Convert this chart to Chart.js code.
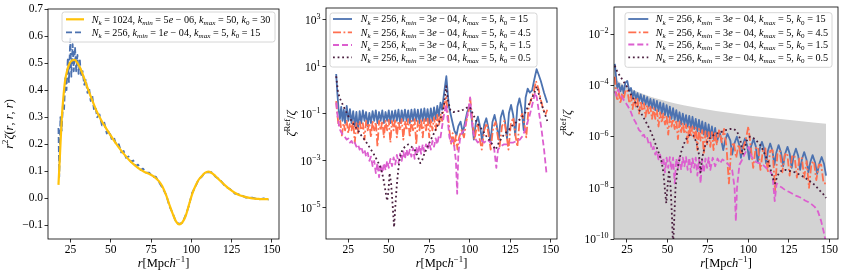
<!DOCTYPE html>
<html><head><meta charset="utf-8">
<script src="https://cdn.jsdelivr.net/npm/chart.js@4/dist/chart.umd.min.js"></script>
<style>
html,body{margin:0;padding:0;background:#fff;}
#wrap{position:relative;width:843px;height:274px;overflow:hidden;background:#fff;}
canvas{position:absolute;top:0;}
</style></head><body>
<div id="wrap">
<canvas id="c1" width="290" height="274" style="left:0px"></canvas>
<canvas id="c2" width="290" height="274" style="left:280px"></canvas>
<canvas id="c3" width="288" height="274" style="left:555px"></canvas>
</div>
<script>
// ------------------------------------------------------------------ data
const xTicks = [25, 50, 75, 100, 125, 150];
const p1YTicks = [-0.1, 0, 0.1, 0.2, 0.3, 0.4, 0.5, 0.6, 0.7];
const p2YTicks = [1e-5, 1e-3, 1e-1, 1e1, 1e3];
const p3YTicks = [1e-10, 1e-8, 1e-6, 1e-4, 1e-2];

const p1Labels = [
  'N_k = 1024, k_{min} = 5e − 06, k_{max} = 50, k_0 = 30',
  'N_k = 256, k_{min} = 1e − 04, k_{max} = 5, k_0 = 15'
];
const kLabels = [
  'N_k = 256, k_{min} = 3e − 04, k_{max} = 5, k_0 = 15',
  'N_k = 256, k_{min} = 3e − 04, k_{max} = 5, k_0 = 4.5',
  'N_k = 256, k_{min} = 3e − 04, k_{max} = 5, k_0 = 1.5',
  'N_k = 256, k_{min} = 3e − 04, k_{max} = 5, k_0 = 0.5'
];
const xTitle = 'r[|Mpc|h^{−1}]';
const p1YTitle = 'r^2ζ(r, r, r)';
const refYTitle = 'ζ^{|Ref|}/ζ';

// Panel 1: r^2 zeta
const p1_ref = [[17.5,0.05],[18.5,0.17],[19.5,0.29],[20.5,0.37],[21.5,0.43],[23,0.475],[24.5,0.5],[26,0.51],[27.5,0.512],[29,0.503],[31,0.482],[33,0.452],[35,0.418],[38,0.37],[41,0.325],[44,0.29],[47,0.26],[50,0.232],[53,0.205],[56,0.18],[59,0.158],[62,0.138],[65,0.122],[68,0.108],[71,0.098],[74,0.09],[77,0.08],[80,0.063],[82,0.045],[84.5,0.01],[86.5,-0.025],[88.5,-0.057],[90.5,-0.085],[92.5,-0.096],[94.5,-0.088],[96.5,-0.065],[98.5,-0.025],[100.5,0.015],[102.5,0.045],[104.5,0.068],[106.5,0.082],[108.5,0.094],[110.5,0.099],[112.5,0.095],[115,0.083],[118,0.065],[121,0.048],[124,0.033],[127,0.021],[130,0.012],[134,0.005],[138,0.0],[142,-0.002],[145,-0.003],[148,-0.003]];
const p1_k15 = [[17.5,0.26],[18.0,0.08],[18.7,0.3],[19.5,0.25],[20.3,0.35],[21,0.33],[21.8,0.45],[22.5,0.4],[23.3,0.52],[24,0.43],[24.8,0.59],[25.5,0.45],[26.3,0.57],[27,0.47],[27.8,0.56],[28.5,0.47],[29.3,0.53],[30,0.46],[30.8,0.51],[31.5,0.45],[32.5,0.47],[33.5,0.42],[34.5,0.44],[35.5,0.39],[36.5,0.41],[37.5,0.36],[38.5,0.38],[39.5,0.33],[40.5,0.34],[41.5,0.3],[43,0.31],[44.5,0.27],[46,0.28],[47.5,0.24],[49,0.25],[50.5,0.22],[52,0.225],[53.5,0.195],[55,0.2],[56.5,0.17],[58,0.175],[59.5,0.15],[61,0.155],[62.5,0.135],[64,0.14],[65.5,0.12],[67,0.125],[68.5,0.105],[70,0.11],[72,0.095],[74,0.095],[76,0.08],[78,0.08],[80,0.06],[82,0.04],[84.5,0.012],[86.5,-0.03],[88.5,-0.055],[90.5,-0.088],[92.5,-0.094],[94.5,-0.09],[96.5,-0.062],[98.5,-0.028],[100.5,0.02],[102.5,0.042],[104.5,0.07],[106.5,0.08],[108.5,0.096],[110.5,0.096],[112.5,0.097],[115,0.08],[118,0.068],[121,0.045],[124,0.035],[127,0.018],[130,0.015],[134,0.003],[138,0.003],[142,-0.004],[145,0.0],[148,-0.005]];

// Panel 2: zeta_Ref / zeta
const p2_k15 = [[17.5,5],[18.2,0.8],[19,0.15],[19.8,0.06],[20.6,0.2],[21.4,0.05],[22.2,0.15],[23,0.04],[24,0.22],[25,0.05],[26,0.16],[27,0.04],[28,0.13],[29,0.03],[30,0.12],[31,0.02],[32,0.13],[33,0.04],[34,0.14],[35,0.05],[36,0.12],[37,0.03],[38,0.11],[39,0.04],[40,0.13],[41,0.05],[42,0.14],[43,0.04],[44,0.12],[45,0.05],[46,0.14],[47,0.04],[48,0.12],[49,0.05],[50,0.14],[51,0.04],[52,0.13],[53,0.05],[54,0.14],[55,0.05],[56,0.15],[57,0.04],[58,0.14],[59,0.05],[60,0.15],[61,0.05],[62,0.14],[63,0.04],[64,0.15],[65,0.05],[66,0.16],[67,0.05],[68,0.15],[69,0.04],[70,0.16],[71,0.05],[72,0.17],[73,0.05],[74,0.16],[75,0.04],[76,0.17],[77,0.05],[78,0.19],[79,0.06],[80,0.22],[81,0.08],[82,0.3],[83,0.15],[84,0.6],[85,2],[85.6,4],[86.3,1],[87.2,0.2],[88.8,0.065],[90.5,0.02],[91.9,0.0126],[93,0.03],[94.4,0.047],[95.8,0.015],[97,0.04],[98.5,0.12],[100.1,0.24],[101.3,0.06],[102.6,0.008],[103.8,0.04],[105.1,0.076],[106.4,0.03],[107.7,0.007],[109,0.035],[110.3,0.065],[111.6,0.025],[112.9,0.006],[114.1,0.045],[115.4,0.09],[116.7,0.035],[118,0.008],[119.2,0.07],[120.5,0.14],[121.8,0.05],[123.1,0.009],[124.3,0.11],[125.6,0.24],[126.9,0.09],[128.2,0.012],[129.5,0.2],[130.8,0.46],[132.1,0.17],[133.4,0.02],[134.6,0.5],[135.9,1.2],[137.2,0.8],[138.6,1.0],[140,3],[141.4,8],[142.5,5],[144,2.5],[146,0.8],[148,0.3]];
const p2_k45 = [[17.5,0.35],[18.2,0.1],[19,0.03],[20,0.05],[21,0.012],[22,0.04],[23,0.02],[24,0.05],[25,0.015],[26,0.04],[27,0.02],[28,0.05],[29,0.006],[30,0.04],[31,0.015],[32,0.05],[33,0.02],[34,0.04],[35,0.008],[36,0.05],[37,0.02],[38,0.04],[39,0.01],[40,0.05],[41,0.02],[42,0.045],[43,0.004],[44,0.05],[45,0.02],[46,0.05],[47,0.01],[48,0.05],[49,0.02],[50,0.055],[51,0.006],[52,0.05],[53,0.02],[54,0.06],[55,0.01],[56,0.05],[57,0.02],[58,0.06],[59,0.008],[60,0.05],[61,0.02],[62,0.06],[63,0.01],[64,0.05],[65,0.02],[66,0.06],[67,0.005],[68,0.05],[69,0.02],[70,0.06],[71,0.01],[72,0.06],[73,0.02],[74,0.07],[75,0.01],[76,0.06],[77,0.02],[78,0.07],[79,0.02],[80,0.09],[81,0.03],[82,0.1],[83,0.05],[84,0.2],[85.5,0.5],[86.5,0.1],[87.5,0.02],[88.5,0.005],[89.5,0.015],[90.5,0.004],[91.5,0.012],[92.5,0.003],[93.5,0.01],[95,0.02],[96.5,0.01],[98,0.05],[99.5,0.15],[100.3,0.5],[101,0.15],[102,0.03],[103,0.008],[104,0.02],[105,0.04],[106,0.01],[107.5,0.003],[109,0.02],[110.5,0.04],[112,0.01],[113,0.003],[114.5,0.025],[116,0.045],[117.5,0.01],[118.5,0.004],[120,0.03],[121.5,0.05],[123,0.01],[124,0.003],[125.5,0.04],[127,0.07],[128.5,0.01],[129.5,0.004],[131,0.06],[132.5,0.1],[134,0.03],[135,0.01],[136.5,0.2],[138,0.4],[139.5,0.8],[141,2.5],[142.5,1.2],[144,0.4],[145.5,0.15],[147,0.1],[148,0.15]];
const p2_k15b = [[17.5,0.3],[18.2,0.1],[19,0.04],[20,0.02],[21,0.015],[22,0.012],[23,0.01],[24,0.008],[25,0.009],[26,0.006],[27,0.007],[28,0.005],[29,0.006],[30,0.004],[31,0.005],[32,0.003],[33,0.004],[34,0.0022],[35,0.003],[36,0.0015],[37,0.0022],[38,0.001],[39,0.0015],[40,0.0006],[41,0.001],[42,0.0003],[43,0.0008],[44,0.0002],[45,0.0007],[46,0.0003],[47,0.0008],[48,0.0004],[49,0.001],[50,0.0005],[51,0.0012],[52,0.0006],[53,0.0014],[54,0.0007],[55,0.0018],[56,0.0008],[57,0.002],[58,0.001],[59,0.0025],[60,0.0012],[61,0.003],[62,0.0015],[63,0.003],[64,0.0015],[65,0.0035],[66,0.0012],[67,0.004],[68,0.002],[69,0.0045],[70,0.002],[71,0.005],[72,0.0025],[73,0.005],[74,0.003],[75,0.006],[76,0.003],[77,0.007],[78,0.004],[79,0.009],[80,0.005],[81,0.012],[82,0.01],[83,0.03],[84,0.08],[85.5,0.25],[86.5,0.05],[87.5,0.01],[88.5,0.006],[89.5,0.008],[90.5,0.004],[91.5,0.001],[92.3,0.00004],[93,0.002],[94,0.008],[95,0.015],[96.5,0.02],[98,0.05],[99.5,0.2],[100.3,0.5],[101,0.1],[102,0.02],[103,0.01],[105,0.006],[107,0.008],[109,0.006],[111,0.008],[113,0.006],[115,0.004],[116.5,0.0005],[117.5,0.003],[119,0.004],[121,0.005],[123,0.005],[125,0.006],[127,0.006],[129,0.007],[131,0.008],[133,0.012],[135,0.03],[137,0.08],[139,0.3],[140.5,0.8],[141.5,0.5],[143,0.1],[144.5,0.02],[146,0.003],[147.5,0.0003]];
const p2_k05 = [[17.5,4],[18.5,1],[19.5,0.5],[21,0.3],[23,0.15],[25,0.08],[27,0.05],[29,0.03],[31,0.02],[33,0.012],[35,0.008],[37,0.005],[39,0.003],[41,0.0018],[43,0.001],[45,0.0005],[46.5,0.0002],[48,0.00005],[49,0.00002],[49.8,0.00005],[50.5,0.0003],[51.5,0.0001],[52.5,0.00001],[53.3,0.0000015],[54,0.00001],[55,0.0001],[56,0.0005],[57,0.0015],[58.5,0.003],[60,0.004],[62,0.005],[64,0.004],[66,0.003],[68,0.0015],[69.5,0.0008],[70.5,0.001],[72,0.002],[74,0.004],[76,0.008],[78,0.015],[80,0.03],[82,0.06],[84,0.2],[85.5,1.5],[86.5,0.4],[88,0.15],[90,0.12],[92,0.13],[94,0.13],[96,0.15],[98,0.18],[100,0.2],[102,0.1],[104,0.05],[106,0.03],[108,0.02],[110,0.012],[112,0.008],[114,0.005],[116,0.003],[117,0.004],[118,0.006],[120,0.01],[122,0.015],[124,0.02],[126,0.03],[128,0.04],[130,0.05],[132,0.07],[134,0.1],[136,0.2],[138,0.4],[140,0.8],[141.5,1.5],[143,0.6],[145,0.2],[146.5,0.1],[148,0.05]];

// Panel 3: zeta_Ref / zeta (other normalisation) + shaded bound
const p3_bound = [[17.5,1.8e-4],[20,1.4e-4],[25,9e-5],[30,6.3e-5],[35,4.7e-5],[40,3.6e-5],[45,2.9e-5],[50,2.4e-5],[55,2e-5],[60,1.7e-5],[70,1.3e-5],[80,1.0e-5],[90,8.2e-6],[100,6.8e-6],[110,5.7e-6],[120,4.9e-6],[130,4.2e-6],[140,3.6e-6],[148,3.2e-6]];
const p3_k15 = [[17.5,7e-4],[18.2,2.5e-4],[19,8e-5],[20,1.2e-4],[21,6e-5],[22,1e-4],[23,5e-5],[24,1.3e-4],[25.2,1.5e-4],[26.5,6e-5],[27.5,8e-5],[28.5,3.5e-5],[29.5,6e-5],[30.5,3e-5],[31.5,5e-5],[32.5,2.5e-5],[33.5,4.5e-5],[34.5,2e-5],[35.5,4e-5],[36.5,1.8e-5],[37.5,3.5e-5],[38.5,1.5e-5],[39.5,3e-5],[40.5,1.3e-5],[41.5,2.8e-5],[42.5,1.1e-5],[43.5,2.5e-5],[44.5,1e-5],[45.5,2.2e-5],[46.5,8e-6],[47.5,2e-5],[48.5,7e-6],[49.5,1.7e-5],[50.5,6e-6],[51.5,1.5e-5],[52.5,5e-6],[53.5,1.3e-5],[54.5,4.5e-6],[55.5,1.1e-5],[56.5,4e-6],[57.5,9e-6],[58.5,3e-6],[59.5,8e-6],[60.5,3e-6],[61.5,7e-6],[62.5,2.5e-6],[63.5,6.5e-6],[64.5,2.2e-6],[65.5,6e-6],[66.5,2e-6],[67.5,5e-6],[68.5,1.6e-6],[69.5,4.5e-6],[70.5,1.5e-6],[71.5,4e-6],[72.5,1.2e-6],[73.5,3.5e-6],[74.5,1e-6],[75.5,3e-6],[76.5,9e-7],[77.5,2.5e-6],[78.5,8e-7],[79.5,2.2e-6],[80.5,6e-7],[82.3,1.5e-6],[84.5,3e-7],[85.6,7e-7],[87.1,1.3e-6],[88.9,7e-7],[90,2e-7],[91.2,5e-7],[92.9,1e-6],[94.3,5e-7],[95.4,1.5e-7],[96.5,4.5e-7],[97.9,8.5e-7],[99.3,4.5e-7],[100.5,1.3e-7],[101.7,4.2e-7],[103.2,8e-7],[104.6,4.2e-7],[105.8,1e-7],[107,3.3e-7],[108.4,6.3e-7],[109.8,3.3e-7],[111,9e-8],[112.1,2.8e-7],[113.5,5.4e-7],[114.9,2.8e-7],[116.1,8e-8],[117.3,2.4e-7],[118.7,4.7e-7],[120.2,2.4e-7],[121.5,7e-8],[122.7,2.1e-7],[124.2,4e-7],[125.6,2.1e-7],[126.8,6e-8],[128,1.8e-7],[129.4,3.4e-7],[130.8,1.8e-7],[132,5e-8],[133.1,1.3e-7],[134.5,2.5e-7],[135.9,1.3e-7],[137.1,4e-8],[138.3,1e-7],[139.7,1.9e-7],[141.2,1e-7],[142.5,3.5e-8],[143.8,8.5e-8],[145.3,1.6e-7],[146.8,8.5e-8],[148,3e-8]];
const p3_k45 = [[17.5,2.2e-4],[18.2,6e-5],[19,2.5e-5],[20,5e-5],[21,2e-5],[22,5e-5],[23,3e-5],[24,6e-5],[25.2,7e-5],[26.5,2e-5],[27.5,4e-5],[28.5,1.2e-5],[29.5,3.5e-5],[30.5,1.5e-5],[31.5,3e-5],[32.5,8e-6],[33.5,2.5e-5],[34.5,1e-5],[35.5,2e-5],[36.5,6e-6],[37.5,1.8e-5],[38.5,7e-6],[39.5,1.5e-5],[40.5,5e-6],[41.5,1.3e-5],[42.5,5e-6],[43.5,1.1e-5],[44.5,2.5e-6],[45.5,9e-6],[46.5,3.5e-6],[47.5,8e-6],[48.5,3e-6],[49.5,7e-6],[50.5,1.2e-6],[51.5,6e-6],[52.5,2.5e-6],[53.5,5e-6],[54.5,2e-6],[55.5,4.5e-6],[56.5,8e-7],[57.5,4e-6],[58.5,1.5e-6],[59.5,3.5e-6],[60.5,1.3e-6],[61.5,3e-6],[62.5,5e-7],[63.5,2.8e-6],[64.5,1e-6],[65.5,2.5e-6],[66.5,9e-7],[67.5,2.2e-6],[68.5,3e-7],[69.5,2e-6],[70.5,7e-7],[71.5,1.8e-6],[72.5,2e-7],[73.5,1.6e-6],[74.5,5e-7],[75.5,1.5e-6],[76.5,4e-7],[77.5,1.5e-6],[78.5,3e-7],[79.5,1.6e-6],[80.5,5e-7],[82,2e-6],[83.5,6e-7],[85,2e-6],[86.5,4e-7],[88,1.5e-8],[89.5,4e-7],[91,6e-7],[92.5,1.5e-7],[94,5e-7],[95.5,2e-7],[97,4e-7],[98.5,8e-7],[100,2.5e-6],[101.5,4e-7],[103,6e-8],[104.5,3.5e-7],[106,4e-7],[107.5,5e-8],[109,3e-7],[110.5,3.5e-7],[112,4e-8],[113.5,2.8e-7],[115,3e-7],[116.5,8e-9],[118,2.3e-7],[119.5,2.7e-7],[121,4e-8],[122.5,2e-7],[124,2.3e-7],[125.5,3e-8],[127,1.7e-7],[128.5,1.9e-7],[130,2.5e-8],[131.5,1.4e-7],[133,1.6e-7],[134.5,2.5e-8],[136,1.1e-7],[137.5,1e-8],[139,9e-8],[140.5,1.1e-7],[142,2e-8],[143.5,8e-8],[145,8e-8],[146.5,1.5e-8],[148,1.5e-8]];
const p3_k15b = [[17.5,6e-5],[18.5,4e-5],[19.5,7e-5],[20.5,5e-5],[21.5,4e-5],[22.5,3e-5],[23.5,2.5e-5],[24.5,2e-5],[25.5,1.6e-5],[26.5,1.2e-5],[27.5,9e-6],[28.5,6e-6],[29.5,4.5e-6],[30.5,3.5e-6],[31.5,2.5e-6],[32.5,1.8e-6],[33.5,1.6e-6],[34.5,1.1e-6],[35.5,1.2e-6],[36.5,8e-7],[37.5,9e-7],[38.5,5e-7],[39.5,6e-7],[40.5,3e-7],[41.5,4e-7],[42.5,2e-7],[43.5,2.8e-7],[44.5,1.3e-7],[45.5,2e-7],[46.5,9e-8],[47.5,1.5e-7],[48.5,4e-8],[49.5,1.5e-7],[50.5,6e-8],[51.5,1.6e-7],[52.5,5e-8],[53.5,1.5e-7],[54.5,1.5e-8],[55.5,1.4e-7],[56.5,6e-8],[57.5,1.6e-7],[58.5,5e-8],[59.5,1.5e-7],[60.5,7e-8],[61.5,1.6e-7],[62.5,5e-8],[63.5,1.5e-7],[64.5,4e-8],[65.5,1.4e-7],[66.5,6e-8],[67.5,1.5e-7],[68.5,3e-8],[69.5,1.3e-7],[70.5,1.5e-8],[71.5,1.3e-7],[72.5,4e-8],[73.5,1.4e-7],[74.5,6e-8],[75.5,1.5e-7],[76.5,5e-8],[78,1.5e-7],[79.5,7e-8],[81,1.4e-7],[82.5,9e-8],[84,1.3e-7],[85.5,1.1e-7],[87,9e-8],[88.5,7e-8],[90,5e-8],[91.5,1e-8],[92.3,5e-10],[93,1e-8],[94.5,8e-8],[96,1.2e-7],[97.5,2e-7],[99,3e-7],[100.3,4e-7],[101.5,2e-7],[103,1.3e-7],[105,1e-7],[107,9e-8],[109,8e-8],[111,6e-8],[113,5e-8],[115,3e-8],[116.3,3e-9],[117.5,1.5e-8],[119,1.2e-8],[121,1e-8],[123,8e-9],[125,7e-9],[127,6e-9],[129,5e-9],[131,4.5e-9],[133,4e-9],[135,3.2e-9],[137,2.8e-9],[139,2.3e-9],[141,1.8e-9],[143,1.2e-9],[145,5e-10],[146.5,2e-10],[147.5,1e-10],[148,6e-11]];
const p3_k05 = [[17.5,6e-4],[19,3.5e-4],[21,2.2e-4],[23,1.4e-4],[25,9e-5],[27,5e-5],[29,3e-5],[31,1.7e-5],[33,1e-5],[35,6e-6],[37,3.5e-6],[39,2e-6],[41,1e-6],[43,4.5e-7],[45,2e-7],[46.5,1e-7],[47.5,4e-8],[48.5,8e-9],[49.3,2.5e-9],[50,1e-8],[51,5e-8],[52,1e-8],[52.8,8e-10],[53.5,5e-11],[54.3,8e-10],[55,1e-8],[56,4e-8],[57,1e-7],[58.5,2.5e-7],[60,5e-7],[62,9e-7],[64,1.2e-6],[66,1.1e-6],[68,6e-7],[69.5,2e-7],[70.5,4e-8],[71.5,1.5e-7],[73,4e-7],[75,7e-7],[77,1e-6],[80,1.3e-6],[83,1.5e-6],[86,1.8e-6],[89,2e-6],[91,2e-6],[93,1.6e-6],[95,8e-7],[96.5,2e-7],[97.5,3e-7],[99,7e-7],[101,1e-6],[103,9e-7],[105,7e-7],[107,5e-7],[109,3e-7],[111,1.6e-7],[113,8e-8],[115,2.5e-8],[116.5,1.5e-8],[118,3e-8],[120,4.5e-8],[123,5e-8],[126,4.5e-8],[129,4e-8],[132,3.2e-8],[135,2.5e-8],[138,1.8e-8],[141,1.3e-8],[144,8e-9],[146,6e-9],[148,4e-9]];

// ------------------------------------------------------------------ styles
const FAMILY = '"Liberation Serif","DejaVu Serif",serif';
const TICK_SIZE = 11.5;
const TITLE_SIZE = 12.5;
const C_BLUE = '#4c72b0', C_ORANGE = '#ff6f4f', C_MAG = '#dc5fcf', C_DARK = '#4a1f3f', C_YEL = '#ffc20a';
const DASH = {solid: [], dashed: [6, 3], dashdot: [8, 2.5, 1.8, 2.5], dotted: [1.8, 2.8]};

// ------------------------------------------------------------------ rich text (math-like)
function parseTex(s) {
  const segs = []; let up = false; let i = 0;
  const isLetter = ch => /[A-Za-zζ]/.test(ch);
  while (i < s.length) {
    const ch = s[i];
    if (ch === '|') { up = !up; i++; continue; }
    if (ch === '_' || ch === '^') {
      const mode = ch === '_' ? 'sub' : 'sup';
      let grp;
      if (s[i + 1] === '{') { const j = s.indexOf('}', i + 2); grp = s.slice(i + 2, j); i = j + 1; }
      else { grp = s[i + 1]; i += 2; }
      let lup = up;
      for (const c of grp) {
        if (c === '|') { lup = !lup; continue; }
        segs.push({t: c, it: !lup && isLetter(c), mode});
      }
      continue;
    }
    segs.push({t: ch, it: !up && isLetter(ch), mode: 'n'});
    i++;
  }
  const out = [];
  for (const g of segs) {
    const l = out[out.length - 1];
    if (l && l.it === g.it && l.mode === g.mode) l.t += g.t; else out.push({...g});
  }
  return out;
}
function segFont(g, size) { const s = g.mode === 'n' ? size : size * 0.7; return (g.it ? 'italic ' : '') + s.toFixed(2) + 'px ' + FAMILY; }
function richWidth(ctx, segs, size) { let w = 0; for (const g of segs) { ctx.font = segFont(g, size); w += ctx.measureText(g.t).width; } return w; }
function drawRich(ctx, segs, x, y, size, align) {
  const w = richWidth(ctx, segs, size);
  let cx = align === 'center' ? x - w / 2 : align === 'right' ? x - w : x;
  ctx.textAlign = 'left'; ctx.textBaseline = 'alphabetic';
  for (const g of segs) {
    ctx.font = segFont(g, size);
    const dy = g.mode === 'sub' ? 0.22 * size : g.mode === 'sup' ? -0.42 * size : 0;
    ctx.fillText(g.t, cx, y + dy);
    cx += ctx.measureText(g.t).width;
  }
  return w;
}
function expLabel(v) { const e = Math.round(Math.log10(v)); return '10^{' + (e < 0 ? '−' + (-e) : String(e)) + '}'; }

// ------------------------------------------------------------------ chart factory
const P = a => a.map(p => ({x: p[0], y: p[1]}));
function line(data, color, dash, width, order, label) {
  return {data: P(data), borderColor: color, borderDash: DASH[dash], borderWidth: width, pointRadius: 0,
          fill: false, tension: 0, order, label, inLegend: true, borderJoinStyle: 'round', borderCapStyle: 'butt'};
}

function makePanel(id, canvasLeft, canvasW, cfg) {
  const area = cfg.area;
  const decor = {
    id: 'decor_' + id,
    afterDraw(chart) {
      const ctx = chart.ctx; const ca = chart.chartArea;
      ctx.save();
      // frame
      ctx.strokeStyle = '#000'; ctx.lineWidth = 0.8; ctx.setLineDash([]);
      ctx.strokeRect(ca.left, ca.top, ca.right - ca.left, ca.bottom - ca.top);
      ctx.fillStyle = '#000';
      // log tick labels
      if (cfg.yType === 'logarithmic') {
        for (const v of cfg.yTicks) {
          const py = chart.scales.y.getPixelForValue(v);
          drawRich(ctx, parseTex(expLabel(v)), ca.left - 5.5, py + TICK_SIZE * 0.33, TICK_SIZE, 'right');
        }
      }
      // x title
      drawRich(ctx, parseTex(xTitle), (ca.left + ca.right) / 2, 267, TITLE_SIZE, 'center');
      // y title
      ctx.save();
      ctx.translate(cfg.yTitleX - canvasLeft, (ca.top + ca.bottom) / 2);
      ctx.rotate(-Math.PI / 2);
      drawRich(ctx, parseTex(cfg.yTitle), 0, TITLE_SIZE * 0.35, TITLE_SIZE, 'center');
      ctx.restore();
      // legend
      const L = cfg.legend;
      const dsets = chart.data.datasets.filter(d => d.inLegend);
      const bx = L.box[0] - canvasLeft, by = L.box[1], bw = L.box[2], bh = L.box[3], r = 2.5;
      ctx.beginPath();
      ctx.moveTo(bx + r, by); ctx.lineTo(bx + bw - r, by); ctx.arcTo(bx + bw, by, bx + bw, by + r, r);
      ctx.lineTo(bx + bw, by + bh - r); ctx.arcTo(bx + bw, by + bh, bx + bw - r, by + bh, r);
      ctx.lineTo(bx + r, by + bh); ctx.arcTo(bx, by + bh, bx, by + bh - r, r);
      ctx.lineTo(bx, by + r); ctx.arcTo(bx, by, bx + r, by, r); ctx.closePath();
      ctx.fillStyle = 'rgba(255,255,255,0.8)'; ctx.fill();
      ctx.strokeStyle = '#cccccc'; ctx.lineWidth = 0.8; ctx.stroke();
      let wmax = 0;
      for (const d of dsets) wmax = Math.max(wmax, richWidth(ctx, parseTex(d.label), 10));
      const size = 10 * L.tw / wmax;
      dsets.forEach((d, i) => {
        const y = L.rows[i];
        ctx.strokeStyle = d.borderColor; ctx.lineWidth = d.borderWidth; ctx.setLineDash(d.borderDash || []);
        ctx.lineCap = 'butt';
        ctx.beginPath(); ctx.moveTo(L.sx[0] - canvasLeft, y); ctx.lineTo(L.sx[1] - canvasLeft, y); ctx.stroke();
        ctx.setLineDash([]);
        ctx.fillStyle = '#000';
        drawRich(ctx, parseTex(d.label), L.tx - canvasLeft, y + size * 0.33, size, 'left');
      });
      ctx.restore();
    }
  };
  const yScale = {
    type: cfg.yType, min: cfg.yMin, max: cfg.yMax,
    afterFit(s) { s.width = area.left - canvasLeft; },
    afterBuildTicks(s) { s.ticks = cfg.yTicks.map(v => ({value: v})); },
    ticks: {display: cfg.yType !== 'logarithmic', autoSkip: false, padding: 1.5, color: '#000',
            font: {family: FAMILY, size: TICK_SIZE},
            callback: v => (v < -1e-9 ? '−' : '') + Math.abs(v).toFixed(1)},
    grid: {drawOnChartArea: false, drawTicks: true, tickLength: 3.5, tickWidth: 0.8, tickColor: '#000'},
    border: {display: false}
  };
  return new Chart(document.getElementById(id), {
    type: 'line',
    data: {datasets: cfg.datasets},
    options: {
      responsive: false, animation: false, devicePixelRatio: 1,
      layout: {padding: {left: 0, right: canvasLeft + canvasW - area.right, top: area.top, bottom: 0}},
      plugins: {legend: {display: false}, tooltip: {enabled: false}},
      scales: {
        x: {
          type: 'linear', min: cfg.xMin, max: cfg.xMax,
          afterFit(s) { s.height = 274 - area.bottom; },
          afterBuildTicks(s) { s.ticks = xTicks.map(v => ({value: v})); },
          ticks: {autoSkip: false, maxRotation: 0, padding: 1, color: '#000',
                  font: {family: FAMILY, size: TICK_SIZE}, callback: v => String(v)},
          grid: {drawOnChartArea: false, drawTicks: true, tickLength: 3.5, tickWidth: 0.8, tickColor: '#000'},
          border: {display: false}
        },
        y: yScale
      }
    },
    plugins: [decor]
  });
}

// ------------------------------------------------------------------ panels
makePanel('c1', 0, 290, {
  area: {left: 48, right: 279, top: 9, bottom: 239},
  xMin: 11, xMax: 154.5, yType: 'linear', yMin: -0.15, yMax: 0.7, yTicks: p1YTicks,
  yTitle: p1YTitle, yTitleX: 9,
  legend: {box: [62, 12, 213, 30], rows: [19.3, 32.3], sx: [66, 84], tx: 91.7, tw: 179},
  datasets: [
    Object.assign(line(p1_ref, C_YEL, 'solid', 2.2, 1, p1Labels[0]), {cubicInterpolationMode: 'monotone'}),
    line(p1_k15, C_BLUE, 'dashed', 1.8, 2, p1Labels[1])
  ]
});

makePanel('c2', 280, 290, {
  area: {left: 326, right: 557, top: 8, bottom: 239},
  xMin: 11.2, xMax: 154, yType: 'logarithmic', yMin: Math.pow(10, -6.33), yMax: Math.pow(10, 3.51), yTicks: p2YTicks,
  yTitle: refYTitle, yTitleX: 291,
  legend: {box: [330, 13, 207, 54], rows: [19, 32.3, 45, 57.3], sx: [333, 352], tx: 360.7, tw: 170},
  datasets: [
    line(p2_k15, C_BLUE, 'solid', 1.8, 4, kLabels[0]),
    line(p2_k45, C_ORANGE, 'dashdot', 1.8, 3, kLabels[1]),
    line(p2_k15b, C_MAG, 'dashed', 1.8, 2, kLabels[2]),
    line(p2_k05, C_DARK, 'dotted', 1.8, 1, kLabels[3])
  ]
});

makePanel('c3', 555, 288, {
  area: {left: 614, right: 838, top: 7, bottom: 239},
  xMin: 17, xMax: 155.4, yType: 'logarithmic', yMin: 1e-10, yMax: Math.pow(10, -0.93), yTicks: p3YTicks,
  yTitle: refYTitle, yTitleX: 567,
  legend: {box: [625, 12.7, 207, 54.6], rows: [19, 32.3, 44.5, 57.3], sx: [628.3, 648.3], tx: 655.7, tw: 172.6},
  datasets: [
    {data: P(p3_bound), fill: 'start', backgroundColor: '#d3d3d3', borderColor: 'rgba(0,0,0,0)', borderWidth: 0,
     pointRadius: 0, tension: 0, order: 10, inLegend: false},
    line(p3_k15, C_BLUE, 'solid', 1.8, 4, kLabels[0]),
    line(p3_k45, C_ORANGE, 'dashdot', 1.8, 3, kLabels[1]),
    line(p3_k15b, C_MAG, 'dashed', 1.8, 2, kLabels[2]),
    line(p3_k05, C_DARK, 'dotted', 1.8, 1, kLabels[3])
  ]
});
</script>
</body></html>
